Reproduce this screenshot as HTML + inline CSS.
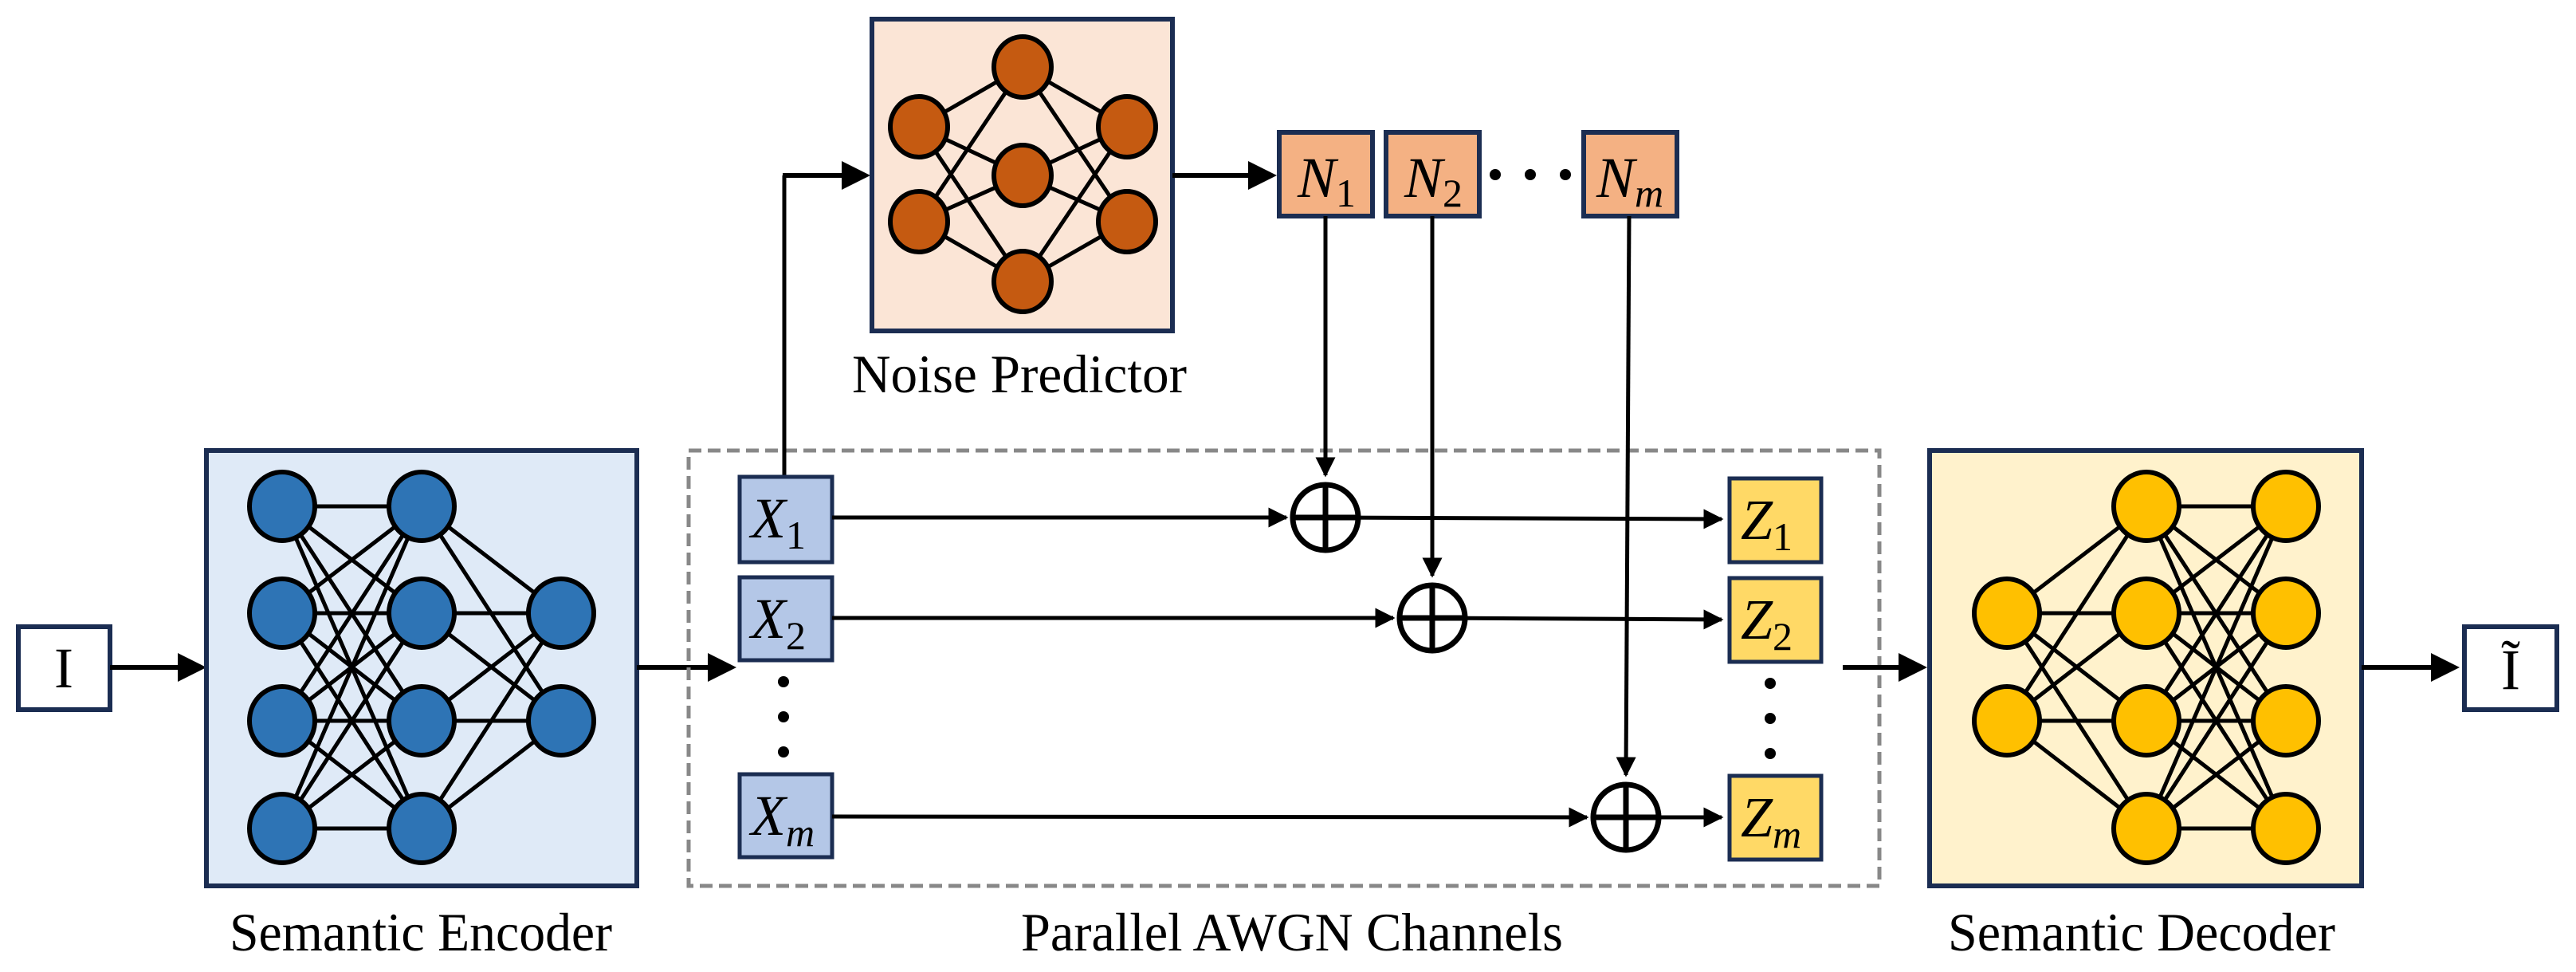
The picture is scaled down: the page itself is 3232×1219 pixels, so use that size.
<!DOCTYPE html>
<html><head><meta charset="utf-8"><style>html,body{margin:0;padding:0;background:#fff}svg{display:block}text{font-family:"Liberation Serif","DejaVu Serif",serif}</style></head>
<body>
<svg width="3232" height="1219" viewBox="0 0 3232 1219" xmlns="http://www.w3.org/2000/svg">
<defs>
<marker id="ah" markerWidth="6" markerHeight="6" refX="5" refY="3" orient="auto" markerUnits="strokeWidth"><path d="M0,0 L6,3 L0,6 z" fill="#000"/></marker>
<marker id="as" markerWidth="5" markerHeight="5" refX="4.5" refY="2.5" orient="auto" markerUnits="strokeWidth"><path d="M0,0 L5,2.5 L0,5 z" fill="#000"/></marker>
</defs>
<g style="font-family:'Liberation Serif',serif">

<!-- I box -->
<rect x="23" y="786" width="115" height="104" fill="#fff" stroke="#1b2d52" stroke-width="6"/>
<text x="80" y="862" font-size="72" text-anchor="middle">I</text>
<line x1="138" y1="837" x2="253" y2="837" stroke="#000" stroke-width="6" marker-end="url(#ah)"/>

<!-- Encoder -->
<rect x="259" y="565" width="540" height="546" fill="#dfeaf7" stroke="#1b2d52" stroke-width="6"/>
<g stroke="#000" stroke-width="5">
<line x1="354" y1="635" x2="529" y2="635"/><line x1="354" y1="635" x2="529" y2="769"/><line x1="354" y1="635" x2="529" y2="904"/><line x1="354" y1="635" x2="529" y2="1039"/>
<line x1="354" y1="769" x2="529" y2="635"/><line x1="354" y1="769" x2="529" y2="769"/><line x1="354" y1="769" x2="529" y2="904"/><line x1="354" y1="769" x2="529" y2="1039"/>
<line x1="354" y1="904" x2="529" y2="635"/><line x1="354" y1="904" x2="529" y2="769"/><line x1="354" y1="904" x2="529" y2="904"/><line x1="354" y1="904" x2="529" y2="1039"/>
<line x1="354" y1="1039" x2="529" y2="635"/><line x1="354" y1="1039" x2="529" y2="769"/><line x1="354" y1="1039" x2="529" y2="904"/><line x1="354" y1="1039" x2="529" y2="1039"/>
<line x1="529" y1="635" x2="704" y2="769"/><line x1="529" y1="635" x2="704" y2="904"/>
<line x1="529" y1="769" x2="704" y2="769"/><line x1="529" y1="769" x2="704" y2="904"/>
<line x1="529" y1="904" x2="704" y2="769"/><line x1="529" y1="904" x2="704" y2="904"/>
<line x1="529" y1="1039" x2="704" y2="769"/><line x1="529" y1="1039" x2="704" y2="904"/>
</g>
<g fill="#2e74b5" stroke="#000" stroke-width="6">
<ellipse cx="354" cy="635" rx="41" ry="43"/><ellipse cx="354" cy="769" rx="41" ry="43"/><ellipse cx="354" cy="904" rx="41" ry="43"/><ellipse cx="354" cy="1039" rx="41" ry="43"/>
<ellipse cx="529" cy="635" rx="41" ry="43"/><ellipse cx="529" cy="769" rx="41" ry="43"/><ellipse cx="529" cy="904" rx="41" ry="43"/><ellipse cx="529" cy="1039" rx="41" ry="43"/>
<ellipse cx="704" cy="769" rx="41" ry="43"/><ellipse cx="704" cy="904" rx="41" ry="43"/>
</g>
<text x="528" y="1192" font-size="68" text-anchor="middle" textLength="480" lengthAdjust="spacingAndGlyphs">Semantic Encoder</text>
<line x1="799" y1="837" x2="918" y2="837" stroke="#000" stroke-width="6" marker-end="url(#ah)"/>

<!-- Dashed box -->
<rect x="864" y="565" width="1494" height="546" fill="none" stroke="#888" stroke-width="5" stroke-dasharray="16,8"/>
<text x="1621" y="1192" font-size="68" text-anchor="middle" textLength="680" lengthAdjust="spacingAndGlyphs">Parallel AWGN Channels</text>

<!-- Noise predictor -->
<line x1="984" y1="597" x2="984" y2="220" stroke="#000" stroke-width="5"/>
<line x1="982" y1="220" x2="1086" y2="220" stroke="#000" stroke-width="6" marker-end="url(#ah)"/>
<rect x="1094" y="24" width="377" height="391" fill="#fbe5d6" stroke="#1b2d52" stroke-width="6"/>
<g stroke="#000" stroke-width="5">
<line x1="1153" y1="159" x2="1283" y2="84"/><line x1="1153" y1="159" x2="1283" y2="220"/><line x1="1153" y1="159" x2="1283" y2="353"/>
<line x1="1153" y1="278" x2="1283" y2="84"/><line x1="1153" y1="278" x2="1283" y2="220"/><line x1="1153" y1="278" x2="1283" y2="353"/>
<line x1="1283" y1="84" x2="1414" y2="159"/><line x1="1283" y1="84" x2="1414" y2="278"/>
<line x1="1283" y1="220" x2="1414" y2="159"/><line x1="1283" y1="220" x2="1414" y2="278"/>
<line x1="1283" y1="353" x2="1414" y2="159"/><line x1="1283" y1="353" x2="1414" y2="278"/>
</g>
<g fill="#c55a11" stroke="#000" stroke-width="6">
<ellipse cx="1153" cy="159" rx="36" ry="38"/><ellipse cx="1153" cy="278" rx="36" ry="38"/>
<ellipse cx="1283" cy="84" rx="36" ry="38"/><ellipse cx="1283" cy="220" rx="36" ry="38"/><ellipse cx="1283" cy="353" rx="36" ry="38"/>
<ellipse cx="1414" cy="159" rx="36" ry="38"/><ellipse cx="1414" cy="278" rx="36" ry="38"/>
</g>
<text x="1279" y="492" font-size="68" text-anchor="middle" textLength="420" lengthAdjust="spacingAndGlyphs">Noise Predictor</text>
<line x1="1471" y1="220" x2="1596" y2="220" stroke="#000" stroke-width="6" marker-end="url(#ah)"/>

<!-- N boxes -->
<g fill="#f4b183" stroke="#1b2d52" stroke-width="6">
<rect x="1605" y="166" width="117" height="105"/>
<rect x="1739" y="166" width="117" height="105"/>
<rect x="1987" y="166" width="117" height="105"/>
</g>
<g font-size="72" font-style="italic">
<text x="1628" y="247">N<tspan font-style="normal" font-size="50" dy="12">1</tspan></text>
<text x="1762" y="247">N<tspan font-style="normal" font-size="50" dy="12">2</tspan></text>
<text x="2003" y="247">N<tspan font-size="50" dy="12">m</tspan></text>
</g>
<circle cx="1876" cy="219" r="7"/><circle cx="1920" cy="219" r="7"/><circle cx="1964" cy="219" r="7"/>
<g stroke="#000" stroke-width="5">
<line x1="1663" y1="271" x2="1663" y2="596" marker-end="url(#as)"/>
<line x1="1797" y1="271" x2="1797" y2="722" marker-end="url(#as)"/>
<line x1="2044" y1="271" x2="2040" y2="972" marker-end="url(#as)"/>
</g>

<!-- X boxes -->
<g fill="#b4c7e7" stroke="#1b2d52" stroke-width="5">
<rect x="928" y="598" width="116" height="107"/>
<rect x="928" y="724" width="116" height="104"/>
<rect x="928" y="971" width="116" height="104"/>
</g>
<g font-size="72" font-style="italic">
<text x="942" y="674">X<tspan font-style="normal" font-size="50" dy="14">1</tspan></text>
<text x="942" y="800">X<tspan font-style="normal" font-size="50" dy="14">2</tspan></text>
<text x="942" y="1047">X<tspan font-size="50" dy="14">m</tspan></text>
</g>
<circle cx="983" cy="855" r="7"/><circle cx="983" cy="899" r="7"/><circle cx="983" cy="943" r="7"/>

<!-- channel lines -->
<g stroke="#000" stroke-width="5">
<line x1="1044" y1="649" x2="1614" y2="649" marker-end="url(#as)"/>
<line x1="1663" y1="649" x2="2160" y2="651" marker-end="url(#as)"/>
<line x1="1044" y1="775" x2="1748" y2="775" marker-end="url(#as)"/>
<line x1="1797" y1="775" x2="2160" y2="777" marker-end="url(#as)"/>
<line x1="1044" y1="1024" x2="1991" y2="1025" marker-end="url(#as)"/>
<line x1="2040" y1="1025" x2="2160" y2="1025" marker-end="url(#as)"/>
</g>
<g fill="none" stroke="#000" stroke-width="7">
<circle cx="1663" cy="649" r="41"/><line x1="1663" y1="608" x2="1663" y2="690"/><line x1="1622" y1="649" x2="1704" y2="649"/>
<circle cx="1797" cy="775" r="41"/><line x1="1797" y1="734" x2="1797" y2="816"/><line x1="1756" y1="775" x2="1838" y2="775"/>
<circle cx="2040" cy="1025" r="41"/><line x1="2040" y1="984" x2="2040" y2="1066"/><line x1="1999" y1="1025" x2="2081" y2="1025"/>
</g>

<!-- Z boxes -->
<g fill="#ffd966" stroke="#1b2d52" stroke-width="5">
<rect x="2170" y="600" width="115" height="105"/>
<rect x="2170" y="725" width="115" height="105"/>
<rect x="2170" y="973" width="115" height="105"/>
</g>
<g font-size="72" font-style="italic">
<text x="2184" y="676">Z<tspan font-style="normal" font-size="50" dy="14">1</tspan></text>
<text x="2184" y="801">Z<tspan font-style="normal" font-size="50" dy="14">2</tspan></text>
<text x="2184" y="1049">Z<tspan font-size="50" dy="14">m</tspan></text>
</g>
<circle cx="2221" cy="857" r="7"/><circle cx="2221" cy="901" r="7"/><circle cx="2221" cy="945" r="7"/>

<line x1="2312" y1="837" x2="2412" y2="837" stroke="#000" stroke-width="6" marker-end="url(#ah)"/>

<!-- Decoder -->
<rect x="2421" y="565" width="542" height="546" fill="#fff2cc" stroke="#1b2d52" stroke-width="6"/>
<g stroke="#000" stroke-width="5">
<line x1="2518" y1="769" x2="2693" y2="635"/><line x1="2518" y1="769" x2="2693" y2="769"/><line x1="2518" y1="769" x2="2693" y2="904"/><line x1="2518" y1="769" x2="2693" y2="1039"/>
<line x1="2518" y1="904" x2="2693" y2="635"/><line x1="2518" y1="904" x2="2693" y2="769"/><line x1="2518" y1="904" x2="2693" y2="904"/><line x1="2518" y1="904" x2="2693" y2="1039"/>
<line x1="2693" y1="635" x2="2868" y2="635"/><line x1="2693" y1="635" x2="2868" y2="769"/><line x1="2693" y1="635" x2="2868" y2="904"/><line x1="2693" y1="635" x2="2868" y2="1039"/>
<line x1="2693" y1="769" x2="2868" y2="635"/><line x1="2693" y1="769" x2="2868" y2="769"/><line x1="2693" y1="769" x2="2868" y2="904"/><line x1="2693" y1="769" x2="2868" y2="1039"/>
<line x1="2693" y1="904" x2="2868" y2="635"/><line x1="2693" y1="904" x2="2868" y2="769"/><line x1="2693" y1="904" x2="2868" y2="904"/><line x1="2693" y1="904" x2="2868" y2="1039"/>
<line x1="2693" y1="1039" x2="2868" y2="635"/><line x1="2693" y1="1039" x2="2868" y2="769"/><line x1="2693" y1="1039" x2="2868" y2="904"/><line x1="2693" y1="1039" x2="2868" y2="1039"/>
</g>
<g fill="#ffc000" stroke="#000" stroke-width="6">
<ellipse cx="2518" cy="769" rx="41" ry="43"/><ellipse cx="2518" cy="904" rx="41" ry="43"/>
<ellipse cx="2693" cy="635" rx="41" ry="43"/><ellipse cx="2693" cy="769" rx="41" ry="43"/><ellipse cx="2693" cy="904" rx="41" ry="43"/><ellipse cx="2693" cy="1039" rx="41" ry="43"/>
<ellipse cx="2868" cy="635" rx="41" ry="43"/><ellipse cx="2868" cy="769" rx="41" ry="43"/><ellipse cx="2868" cy="904" rx="41" ry="43"/><ellipse cx="2868" cy="1039" rx="41" ry="43"/>
</g>
<text x="2687" y="1192" font-size="68" text-anchor="middle" textLength="486" lengthAdjust="spacingAndGlyphs">Semantic Decoder</text>
<line x1="2963" y1="837" x2="3080" y2="837" stroke="#000" stroke-width="6" marker-end="url(#ah)"/>

<!-- I tilde box -->
<rect x="3092" y="786" width="116" height="104" fill="#fff" stroke="#1b2d52" stroke-width="6"/>
<text x="3150" y="864" font-size="72" text-anchor="middle">Ĩ</text>
</g>
</svg>
</body></html>
